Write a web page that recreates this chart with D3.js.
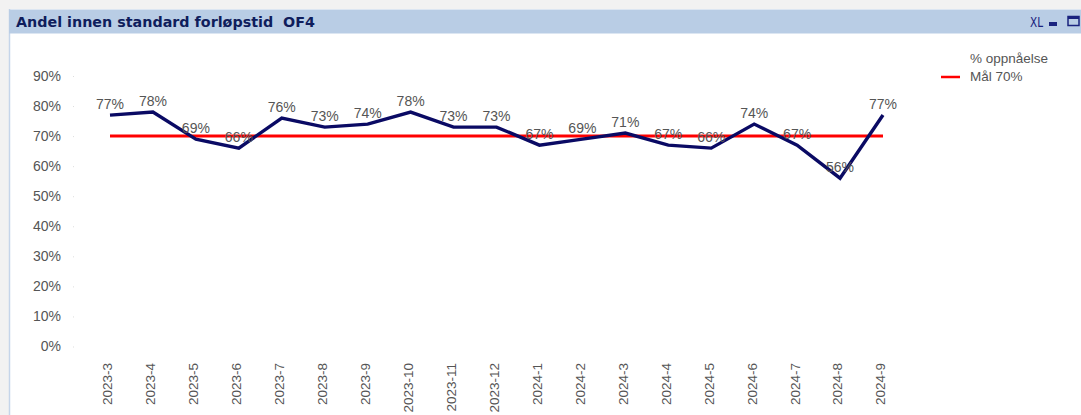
<!DOCTYPE html>
<html>
<head>
<meta charset="utf-8">
<script src="https://cdn.jsdelivr.net/npm/d3@7"></script>
<style>
  body { margin: 0; background: #f2f2f2; }
  svg { display: block; font-family: "Liberation Sans", Arial, sans-serif; }
</style>
</head>
<body>
<div id="chart"></div>
<script>
var width = 1081, height = 415;

// data
var categories = ["2023-3","2023-4","2023-5","2023-6","2023-7","2023-8","2023-9","2023-10","2023-11","2023-12",
                  "2024-1","2024-2","2024-3","2024-4","2024-5","2024-6","2024-7","2024-8","2024-9"];
var oppnaelse = [0.77,0.78,0.69,0.66,0.76,0.73,0.74,0.78,0.73,0.73,0.67,0.69,0.71,0.67,0.66,0.74,0.67,0.56,0.77];
var maal = 0.70;
var yTicks = [0,0.1,0.2,0.3,0.4,0.5,0.6,0.7,0.8,0.9];
var legendLabels = ["% oppnåelse", "Mål 70%"];

var svg = d3.select("#chart").append("svg")
    .attr("width", width)
    .attr("height", height);

// panel
svg.append("rect").attr("x", 9).attr("y", 9).attr("width", width - 9).attr("height", height - 9)
    .attr("fill", "#ffffff");
svg.append("line").attr("x1", 9.5).attr("x2", 9.5).attr("y1", 9).attr("y2", height)
    .attr("stroke", "#c5d5ea").attr("stroke-width", 1.5);
svg.append("rect").attr("x", 9).attr("y", 9.5).attr("width", width - 9).attr("height", 24)
    .attr("fill", "#b9cde5");
svg.append("text").attr("x", 16).attr("y", 27)
    .attr("font-size", 13.5).attr("font-weight", "bold").attr("fill", "#0f1d5c")
    .attr("font-family", "DejaVu Sans, Verdana, sans-serif")
    .attr("textLength", 299).attr("lengthAdjust", "spacingAndGlyphs")
    .style("white-space", "pre")
    .text("Andel innen standard forløpstid  OF4");

// title bar icons
svg.append("text").attr("x", 1030).attr("y", 27).attr("font-size", 14)
    .attr("font-family", "DejaVu Sans Condensed, sans-serif").attr("fill", "#1a237e")
    .attr("textLength", 13).attr("lengthAdjust", "spacingAndGlyphs").text("XL");
svg.append("rect").attr("x", 1049).attr("y", 22).attr("width", 8).attr("height", 4).attr("fill", "#1a237e");
svg.append("rect").attr("x", 1068).attr("y", 16.5).attr("width", 11).attr("height", 9)
    .attr("fill", "none").attr("stroke", "#1a237e").attr("stroke-width", 1.5);
svg.append("rect").attr("x", 1068).attr("y", 16).attr("width", 11).attr("height", 3).attr("fill", "#1a237e");

var x = d3.scalePoint().domain(categories).range([110, 883]);
var y = d3.scaleLinear().domain([0, 0.9]).range([346.5, 76]);

// y axis
var yAxis = d3.axisLeft(y).tickValues(yTicks).tickFormat(d3.format(".0%")).tickSize(1).tickPadding(12);
var gY = svg.append("g").attr("transform", "translate(74,0)").call(yAxis);
gY.select(".domain").remove();
gY.selectAll(".tick line").attr("stroke", "#dddddd");
gY.selectAll(".tick text").attr("font-size", 14).attr("fill", "#555555")
    .attr("font-family", "Liberation Sans, Arial, sans-serif");

// x axis
var xAxis = d3.axisBottom(x).tickSize(0).tickPadding(0);
var gX = svg.append("g").attr("transform", "translate(0,363)").call(xAxis);
gX.select(".domain").remove();
gX.selectAll(".tick text")
    .attr("font-size", 13.5).attr("fill", "#555555")
    .attr("font-family", "Liberation Sans, Arial, sans-serif")
    .attr("text-anchor", "end")
    .attr("transform", "rotate(-90)")
    .attr("x", 0).attr("y", 0).attr("dx", 0).attr("dy", "0.14em");

// target line
svg.append("line")
    .attr("x1", x(categories[0])).attr("x2", x(categories[categories.length - 1]))
    .attr("y1", y(maal)).attr("y2", y(maal))
    .attr("stroke", "#ff0000").attr("stroke-width", 3);

// main line
var line = d3.line()
    .x(function(d, i) { return x(categories[i]); })
    .y(function(d) { return y(d); });
svg.append("path").datum(oppnaelse)
    .attr("d", line)
    .attr("fill", "none")
    .attr("stroke", "#0a0a64")
    .attr("stroke-width", 3.4)
    .attr("stroke-linejoin", "miter");

// value labels
svg.append("g").selectAll("text").data(oppnaelse).enter().append("text")
    .attr("x", function(d, i) { return x(categories[i]); })
    .attr("y", function(d) { return y(d) - 6; })
    .attr("text-anchor", "middle")
    .attr("font-size", 14).attr("fill", "#555555")
    .text(function(d) { return Math.round(d * 100) + "%"; });

// legend
svg.append("text").attr("x", 970).attr("y", 63).attr("font-size", 13.5).attr("fill", "#555555").text(legendLabels[0]);
svg.append("line").attr("x1", 941).attr("x2", 960).attr("y1", 77).attr("y2", 77)
    .attr("stroke", "#ff0000").attr("stroke-width", 2.5);
svg.append("text").attr("x", 970).attr("y", 81).attr("font-size", 13.5).attr("fill", "#555555").text(legendLabels[1]);
</script>
</body>
</html>
